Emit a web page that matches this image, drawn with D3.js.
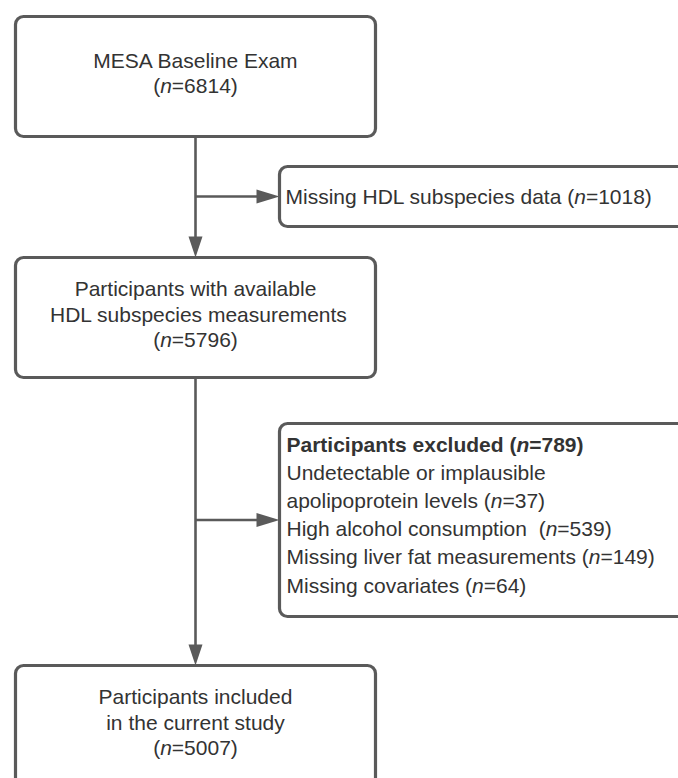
<!DOCTYPE html>
<html>
<head>
<meta charset="utf-8">
<script src="https://cdn.jsdelivr.net/npm/d3@7"></script>
<style>
  body { margin: 0; background: #fff; }
  svg { display: block; }
</style>
</head>
<body>
<script>
// box texts: _x_ = italic, *x* = bold
var main_labels = [
  ["MESA Baseline Exam", "(_n_=6814)"],
  ["Participants with available", " HDL subspecies measurements", "(_n_=5796)"],
  ["Participants included", "in the current study", "(_n_=5007)"]
];
var side_labels = [
  ["Missing HDL subspecies data (_n_=1018)"],
  ["*Participants excluded (_n_=789)*",
   "Undetectable or implausible",
   "apolipoprotein levels (_n_=37)",
   "High alcohol consumption  (_n_=539)",
   "Missing liver fat measurements (_n_=149)",
   "Missing covariates (_n_=64)"]
];

// layout
var width = 678, height = 778;
var line_col = "#5a5a5a", text_col = "#333";
var main_x0 = 15.5, main_x1 = 375.5;
var main_top = [16.5, 257.5, 665.5], main_h = 120;
var side_x0 = 279.5, side_x1 = 720;
var side_top = [166.5, 423.5], side_h = [60, 193];
var spine_x = (main_x0 + main_x1) / 2;

var svg = d3.select("body").append("svg")
    .attr("width", width)
    .attr("height", height)
    .style("overflow", "hidden");

function segments(str) {
  var out = [], bold = false, ital = false, buf = "";
  for (var i = 0; i < str.length; i++) {
    var c = str[i];
    if (c == "*" || c == "_") {
      if (buf) out.push({t: buf, b: bold, i: ital});
      buf = "";
      if (c == "*") bold = !bold; else ital = !ital;
    } else buf += c;
  }
  if (buf) out.push({t: buf, b: bold, i: ital});
  return out;
}

function writeLine(g, str, x, y, anchor) {
  var t = g.append("text")
      .attr("x", x)
      .attr("y", y)
      .attr("text-anchor", anchor)
      .attr("fill", text_col)
      .attr("font-family", "'Liberation Sans', Arial, sans-serif")
      .attr("font-size", "21px")
      .style("white-space", "pre");
  segments(str).forEach(function(s) {
    t.append("tspan")
      .text(s.t)
      .attr("font-weight", s.b ? "bold" : "normal")
      .attr("font-style", s.i ? "italic" : "normal");
  });
}

function drawBox(x0, y0, x1, y1) {
  svg.append("rect")
    .attr("x", x0).attr("y", y0)
    .attr("width", x1 - x0).attr("height", y1 - y0)
    .attr("rx", 8).attr("ry", 8)
    .attr("fill", "#fff")
    .attr("stroke", line_col)
    .attr("stroke-width", 3.2);
}

// connectors first
function arrowDown(x, y0, y1) {
  svg.append("line").attr("x1", x).attr("x2", x).attr("y1", y0).attr("y2", y1 - 18)
    .attr("stroke", line_col).attr("stroke-width", 2.6);
  svg.append("path")
    .attr("d", d3.line()([[x - 7, y1 - 21], [x + 7, y1 - 21], [x, y1]]))
    .attr("fill", line_col);
}
function arrowRight(x0, x1, y) {
  svg.append("line").attr("x1", x0).attr("x2", x1 - 18).attr("y1", y).attr("y2", y)
    .attr("stroke", line_col).attr("stroke-width", 2.6);
  svg.append("path")
    .attr("d", d3.line()([[x1 - 23, y - 7], [x1 - 23, y + 7], [x1, y]]))
    .attr("fill", line_col);
}

arrowDown(spine_x, main_top[0] + main_h, main_top[1]);
arrowDown(spine_x, main_top[1] + main_h, main_top[2]);
side_top.forEach(function(t, i) {
  arrowRight(spine_x, side_x0, t + side_h[i] / 2);
});

// main boxes, centred text
main_labels.forEach(function(lines, i) {
  var y0 = main_top[i];
  drawBox(main_x0, y0, main_x1, y0 + main_h);
  var cy = y0 + main_h / 2, lh = 25.5;
  lines.forEach(function(l, j) {
    writeLine(svg, l, spine_x, cy + (j - (lines.length - 1) / 2) * lh + 4, "middle");
  });
});

// side boxes, left text
side_labels.forEach(function(lines, i) {
  var y0 = side_top[i];
  drawBox(side_x0, y0, side_x1, y0 + side_h[i]);
  if (lines.length == 1) {
    writeLine(svg, lines[0], side_x0 + 6, y0 + side_h[i] / 2 + 7, "start");
  } else {
    lines.forEach(function(l, j) {
      writeLine(svg, l, side_x0 + 7, y0 + 28 + j * 28.2, "start");
    });
  }
});
</script>
</body>
</html>
